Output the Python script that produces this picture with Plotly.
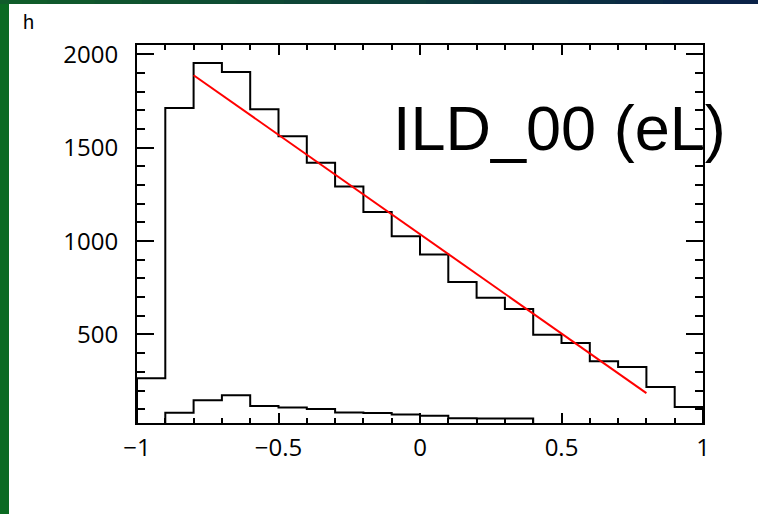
import plotly.graph_objects as go

# ---- data ----
bin_edges = [-1.0, -0.9, -0.8, -0.7, -0.6, -0.5, -0.4, -0.3, -0.2, -0.1, 0.0,
             0.1, 0.2, 0.3, 0.4, 0.5, 0.6, 0.7, 0.8, 0.9, 1.0]
main_counts = [265, 1712, 1953, 1905, 1706, 1562, 1419, 1292, 1156, 1026,
               928, 781, 696, 637, 498, 455, 357, 326, 219, 112]
low_counts = [0, 81, 148, 175, 117, 109, 101, 82, 80, 71,
              65, 52, 50, 50, 0, 0, 0, 0, 0, 0]
fit_x = [-0.8, 0.8]
fit_y = [1888, 186]
x_tickvals = [-1, -0.5, 0, 0.5, 1]
x_ticktext = ["\u22121", "\u22120.5", "0", "0.5", "1"]
y_tickvals = [500, 1000, 1500, 2000]
y_ticktext = ["500", "1000", "1500", "2000"]
label_text = "ILD_00 (eL)"
hist_name = "h"

W, H = 758, 514
L, R, T, B = 137, 55, 45, 91
PW, PH = W - L - R, H - T - B


def step_xy(edges, counts, floor=-1000):
    xs, ys = [edges[0]], [floor]
    for i, c in enumerate(counts):
        xs += [edges[i], edges[i + 1]]
        ys += [c, c]
    xs.append(edges[-1])
    ys.append(floor)
    return xs, ys


def px_x(p):
    return (p - L) / PW


def px_y(p):
    return (T + PH - p) / PH


fig = go.Figure()
mx, my = step_xy(bin_edges, main_counts)
lx, ly = step_xy(bin_edges, low_counts)
fig.add_trace(go.Scatter(x=mx, y=my, mode="lines", line=dict(color="black", width=2),
                         showlegend=False, hoverinfo="skip"))
fig.add_trace(go.Scatter(x=lx, y=ly, mode="lines", line=dict(color="black", width=2),
                         showlegend=False, hoverinfo="skip"))
fig.add_trace(go.Scatter(x=fit_x, y=fit_y, mode="lines", line=dict(color="#ff0000", width=2),
                         showlegend=False, hoverinfo="skip"))

tickfont = dict(family="Open Sans, Liberation Sans, sans-serif", size=24, color="black")

fig.update_xaxes(range=[-1, 1], showgrid=False, zeroline=False, showline=True,
                 linecolor="black", linewidth=2, mirror="allticks",
                 ticks="inside", ticklen=10, tickwidth=2, tickcolor="black",
                 tickvals=x_tickvals, ticktext=x_ticktext, tickfont=tickfont,
                 ticklabelstandoff=2,
                 minor=dict(ticks="inside", dtick=0.1, tick0=0, ticklen=5,
                            tickwidth=2, tickcolor="black", showgrid=False))
fig.update_yaxes(range=[26, 2050], showgrid=False, zeroline=False, showline=True,
                 linecolor="black", linewidth=2, mirror="allticks",
                 ticks="inside", ticklen=17, tickwidth=2, tickcolor="black",
                 tickvals=y_tickvals, ticktext=y_ticktext, tickfont=tickfont,
                 ticklabelstandoff=12,
                 minor=dict(ticks="inside", dtick=100, tick0=0, ticklen=8,
                            tickwidth=2, tickcolor="black", showgrid=False))

shapes = []
# left green strip
shapes.append(dict(type="rect", xref="paper", yref="paper", layer="below",
                   x0=px_x(0), x1=px_x(9), y0=px_y(H), y1=px_y(0),
                   fillcolor="#0b6a22", line=dict(width=0)))
# top gradient strip
cols_a = (0x10, 0x5c, 0x2a)
cols_b = (0x0a, 0x22, 0x48)
n = 16
for i in range(n):
    t = i / (n - 1)
    c = tuple(int(round(a + (b - a) * t)) for a, b in zip(cols_a, cols_b))
    shapes.append(dict(type="rect", xref="paper", yref="paper", layer="below",
                       x0=px_x(W * i / n), x1=px_x(W * (i + 1) / n + 1),
                       y0=px_y(4), y1=px_y(0),
                       fillcolor="rgb(%d,%d,%d)" % c, line=dict(width=0)))

annotations = [
    dict(text=label_text, xref="paper", yref="paper", x=px_x(391), y=px_y(128),
         xanchor="left", yanchor="middle", showarrow=False,
         font=dict(family="Liberation Sans, Arial, sans-serif", size=63, color="black")),
    dict(text=hist_name, xref="paper", yref="paper", x=px_x(21), y=px_y(22),
         xanchor="left", yanchor="middle", showarrow=False,
         font=dict(family="Liberation Sans, Arial, sans-serif", size=20, color="black")),
]

fig.update_layout(width=W, height=H, margin=dict(l=L, r=R, t=T, b=B),
                  paper_bgcolor="white", plot_bgcolor="white",
                  shapes=shapes, annotations=annotations, showlegend=False)

fig.write_html("out.html", config={"displayModeBar": False},
               post_script="document.body.style.margin='0';document.body.style.padding='0';")
